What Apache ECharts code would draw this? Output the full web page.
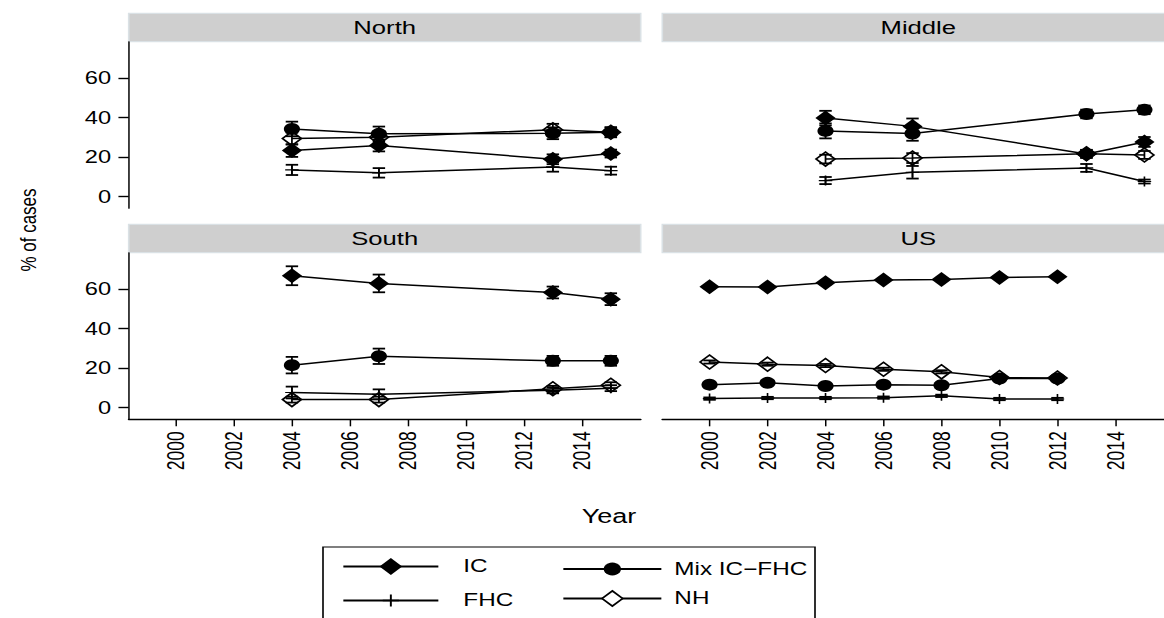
<!DOCTYPE html>
<html>
<head>
<meta charset="utf-8">
<script src="https://cdn.jsdelivr.net/npm/echarts@6/dist/echarts.min.js"></script>
<style>
html,body{margin:0;padding:0;background:#fff;overflow:hidden;width:1164px;height:618px;}
#c{width:862px;height:618px;transform:scaleX(1.350348);transform-origin:0 0;}
</style>
</head>
<body>
<div id="c"></div>
<script>
// ---------------- data ----------------
const yearsRegion = [2004, 2007, 2013, 2015];
const yearsUS = [2000, 2002, 2004, 2006, 2008, 2010, 2012];
const seriesNames = ['IC', 'Mix IC\u2212FHC', 'FHC', 'NH'];
const panelNames = ['North', 'Middle', 'South', 'US'];
const xTicks = [2000, 2002, 2004, 2006, 2008, 2010, 2012, 2014];
const yTicks = [0, 20, 40, 60];

const northIC  = [23.2, 25.8, 18.8, 21.7];
const northMix = [34.2, 31.7, 32.0, 32.5];
const northFHC = [13.4, 11.9, 14.9, 13.0];
const northNH  = [29.3, 30.0, 33.8, 32.5];
const northICErr  = [3.2, 3.0, 2.5, 2.0];
const northMixErr = [3.7, 3.7, 3.0, 2.5];
const northFHCErr = [2.6, 2.4, 2.4, 2.0];
const northNHErr  = [3.0, 3.0, 3.0, 2.5];

const middleIC  = [39.7, 35.5, 21.5, 27.6];
const middleMix = [33.2, 31.9, 41.8, 43.9];
const middleFHC = [8.0, 12.2, 14.4, 7.5];
const middleNH  = [18.9, 19.4, 21.6, 21.0];
const middleICErr  = [3.7, 4.0, 2.0, 2.5];
const middleMixErr = [3.8, 3.7, 2.2, 2.2];
const middleFHCErr = [1.8, 3.2, 2.0, 1.0];
const middleNHErr  = [2.2, 2.5, 2.0, 2.0];

const southIC  = [66.8, 62.9, 58.3, 54.9];
const southMix = [21.4, 25.9, 23.6, 23.6];
const southFHC = [7.5, 6.6, 8.6, 9.7];
const southNH  = [3.9, 3.9, 9.4, 11.2];
const southICErr  = [4.8, 4.5, 3.0, 3.0];
const southMixErr = [4.2, 3.9, 2.5, 2.5];
const southFHCErr = [3.0, 2.5, 1.5, 1.5];
const southNHErr  = [1.5, 1.5, 1.5, 1.5];

const usIC  = [61.2, 61.1, 63.2, 64.6, 64.9, 65.9, 66.3];
const usMix = [11.5, 12.4, 10.8, 11.5, 11.2, 14.6, 14.6];
const usFHC = [4.4, 4.7, 4.7, 4.9, 5.8, 4.2, 4.2];
const usNH  = [23.0, 21.9, 21.2, 19.3, 18.0, 15.1, 14.9];
const usICErr  = [0.8, 0.8, 0.8, 0.8, 0.8, 0.8, 0.8];
const usMixErr = [0.7, 0.7, 0.7, 0.7, 0.7, 0.7, 0.7];
const usFHCErr = [0.6, 0.6, 0.6, 0.6, 0.6, 0.6, 0.6];
const usNHErr  = [0.8, 0.8, 0.8, 0.8, 0.8, 0.8, 0.8];

// ---------------- layout / style ----------------
const K = 1164 / 862;            // horizontal stretch of the reference
const ix = v => v / K;           // outer px -> inner px
const FONT = 'Liberation Sans, Arial, Helvetica, sans-serif';
const XMIN = 1998.37, XMAX = 2016.03, YMIN = -6.1, YMAX = 78.5;
const PW = 512, PH = 166.6, SH = 28.4;
const lefts = [128.7, 662.3, 128.7, 662.3];
const tops = [41.7, 41.7, 252.7, 252.7];

const panels = [
  { years: yearsRegion, vals: [northIC, northMix, northFHC, northNH], errs: [northICErr, northMixErr, northFHCErr, northNHErr] },
  { years: yearsRegion, vals: [middleIC, middleMix, middleFHC, middleNH], errs: [middleICErr, middleMixErr, middleFHCErr, middleNHErr] },
  { years: yearsRegion, vals: [southIC, southMix, southFHC, southNH], errs: [southICErr, southMixErr, southFHCErr, southNHErr] },
  { years: yearsUS, vals: [usIC, usMix, usFHC, usNH], errs: [usICErr, usMixErr, usFHCErr, usNHErr] }
];

const PLUS = 'path://M4.4,0H5.6V4.4H10V5.6H5.6V10H4.4V5.6H0V4.4H4.4Z';
const styles = [
  { symbol: 'diamond', symbolSize: 15, itemStyle: { color: '#000' } },
  { symbol: 'circle', symbolSize: 12, itemStyle: { color: '#000' } },
  { symbol: PLUS, symbolSize: 10, itemStyle: { color: '#000' } },
  { symbol: 'diamond', symbolSize: 14, itemStyle: { color: 'rgba(0,0,0,0)', borderColor: '#000', borderWidth: 1.5 } }
];

const grids = [], xAxes = [], yAxes = [], series = [], graphics = [];
panels.forEach((p, i) => {
  const bottomRow = i >= 2, leftCol = i % 2 === 0;
  grids.push({ left: ix(lefts[i]), top: tops[i], width: ix(PW), height: PH, containLabel: false, outerBoundsMode: 'none' });
  xAxes.push({
    gridIndex: i, type: 'value', min: XMIN, max: XMAX,
    axisLine: { show: bottomRow, onZero: false, lineStyle: { color: '#000', width: 1.4 } },
    axisTick: { show: bottomRow, length: 7, customValues: xTicks, lineStyle: { color: '#000', width: 1.1 } },
    axisLabel: { show: bottomRow, rotate: 90, margin: 12, customValues: xTicks, formatter: v => String(v),
      fontSize: 17.5, color: '#000', fontFamily: FONT },
    splitLine: { show: false }
  });
  yAxes.push({
    gridIndex: i, type: 'value', min: YMIN, max: YMAX,
    axisLine: { show: leftCol, onZero: false, lineStyle: { color: '#000', width: 1.1 } },
    axisTick: { show: leftCol, length: 7.6, customValues: yTicks, lineStyle: { color: '#000', width: 1.4 } },
    axisLabel: { show: leftCol, margin: 13, customValues: yTicks, formatter: v => String(v),
      fontSize: 17.5, color: '#000', fontFamily: FONT },
    splitLine: { show: false }
  });
  p.vals.forEach((vals, g) => {
    const errs = p.errs[g];
    series.push({
      type: 'custom', xAxisIndex: i, yAxisIndex: i, z: 2, silent: true,
      encode: { x: 0, y: [1, 2] },
      data: p.years.map((yr, j) => [yr, vals[j] - errs[j], vals[j] + errs[j]]),
      renderItem: (params, api) => {
        const a = api.coord([api.value(0), api.value(1)]);
        const b = api.coord([api.value(0), api.value(2)]);
        const hw = 4.6;
        const st = { stroke: '#000', lineWidth: 1.3, fill: null };
        return { type: 'group', children: [
          { type: 'line', shape: { x1: a[0], y1: a[1], x2: b[0], y2: b[1] }, style: st },
          { type: 'line', shape: { x1: a[0] - hw, y1: a[1], x2: a[0] + hw, y2: a[1] }, style: { stroke: '#000', lineWidth: 1.8 } },
          { type: 'line', shape: { x1: b[0] - hw, y1: b[1], x2: b[0] + hw, y2: b[1] }, style: { stroke: '#000', lineWidth: 1.8 } }
        ] };
      }
    });
    series.push(Object.assign({
      type: 'line', name: seriesNames[g], xAxisIndex: i, yAxisIndex: i, z: 3, silent: true,
      data: p.years.map((yr, j) => [yr, vals[j]]),
      lineStyle: { color: '#000', width: 1.5 }
    }, styles[g]));
  });
  // strip
  graphics.push({ type: 'rect', shape: { x: ix(lefts[i]), y: tops[i] - SH, width: ix(PW), height: SH },
    style: { fill: '#cfcfcf', stroke: '#dae1e5', lineWidth: 1.2 } });
  graphics.push({ type: 'text', x: ix(lefts[i] + PW / 2), y: tops[i] - SH / 2 + 0.5,
    style: { text: panelNames[i], fontSize: 19, fontFamily: FONT, fill: '#000', align: 'center', verticalAlign: 'middle', textAlign: 'center', textVerticalAlign: 'middle' } });
});

graphics.push({ type: 'text', x: ix(28), y: 230, rotation: Math.PI / 2,
  style: { text: '% of cases', fontSize: 17, fontFamily: FONT, fill: '#000', align: 'center', verticalAlign: 'middle', textAlign: 'center', textVerticalAlign: 'middle' } });
graphics.push({ type: 'text', x: ix(609), y: 516,
  style: { text: 'Year', fontSize: 20, fontFamily: FONT, fill: '#000', align: 'center', verticalAlign: 'middle', textAlign: 'center', textVerticalAlign: 'middle' } });
graphics.push({ type: 'rect', shape: { x: ix(323), y: 547, width: ix(492), height: 90 },
  style: { fill: 'none', stroke: '#000', lineWidth: 1.2 } });

function leg(name, x0, x1, xt, rowY, ih, itemStyle) {
  const o = {
    data: [name], left: ix(x0), top: rowY - ih / 2, padding: 0, orient: 'horizontal',
    itemWidth: ix(x1 - x0), itemHeight: ih, selectedMode: false,
    textStyle: { fontSize: 18, fontFamily: FONT, color: '#000', padding: [0, 0, 0, Math.max(0, ix(xt - x1) - 5)] }
  };
  if (itemStyle) o.itemStyle = itemStyle;
  return o;
}
const legends = [
  leg(seriesNames[0], 342, 437, 462, 568, 21),
  leg(seriesNames[1], 562, 660, 673, 568, 16),
  leg(seriesNames[2], 342, 437, 462, 599, 15),
  leg(seriesNames[3], 562, 660, 673, 599, 19, { color: '#fff', borderColor: '#000', borderWidth: 1.5 })
];

const chart = echarts.init(document.getElementById('c'), null, { renderer: 'svg', width: 862, height: 618 });
chart.setOption({
  animation: false,
  backgroundColor: '#fff',
  grid: grids, xAxis: xAxes, yAxis: yAxes,
  legend: legends,
  series: series,
  graphic: { elements: graphics }
});
</script>
</body>
</html>
